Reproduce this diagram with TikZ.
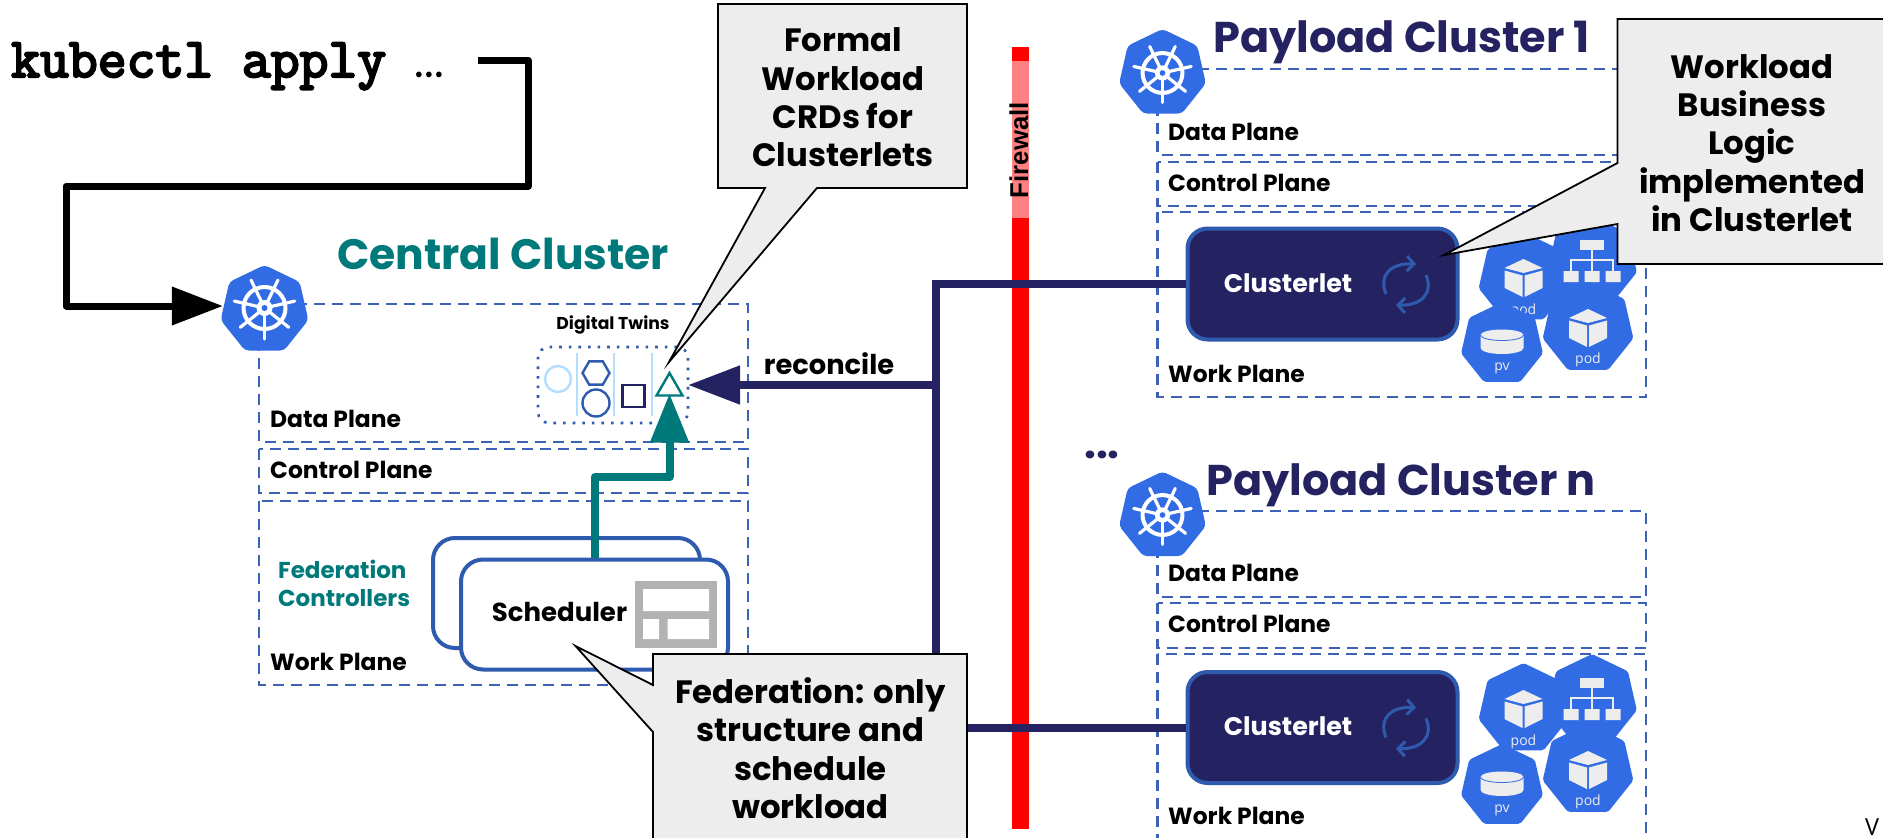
\documentclass[tikz,border=0pt]{standalone}
\usepackage{fontspec}
\setmainfont{Poppins}
\newfontfamily\firefont{Liberation Sans}
\newfontfamily\lightfont{Open Sans}
\newfontfamily\kubefont[FakeBold=4]{Latin Modern Mono}
\usetikzlibrary{arrows.meta,shapes.geometric}
\definecolor{kblue}{HTML}{326CE5}
\definecolor{dashblue}{HTML}{3B62B4}
\definecolor{boxblue}{HTML}{2F5BAE}
\definecolor{navy}{HTML}{252262}
\definecolor{teal2}{HTML}{00797B}
\definecolor{calloutgrey}{HTML}{EDEDED}
\definecolor{lightb}{HTML}{B4DEFF}
\definecolor{iconw}{HTML}{EDEDED}
\tikzset{
  planebox/.style={draw=dashblue,line width=2.7pt,dash pattern=on 11pt off 7pt},
  planelabel/.style={anchor=west,inner sep=0pt,font=\fontsize{23.4}{27}\selectfont\bfseries,text=black},
  titlelabel/.style={anchor=base west,inner sep=0pt,font=\fontsize{43}{50}\selectfont\bfseries},
  kubehept/.style={regular polygon,regular polygon sides=7,fill=kblue,inner sep=0pt,outer sep=0pt,rounded corners=4pt},
  podhept/.style={regular polygon,regular polygon sides=7,fill=kblue,inner sep=0pt,outer sep=0pt,rounded corners=2pt},
  podtext/.style={inner sep=0pt,font=\lightfont\fontsize{14}{16}\selectfont,text=iconw},
  clusterbox/.style={draw=boxblue,fill=navy,line width=4pt,rounded corners=20pt,minimum width=270pt,minimum height=111pt,inner sep=0pt},
  fedbox/.style={draw=boxblue,fill=white,line width=4pt,rounded corners=22pt,minimum width=267pt,minimum height=110pt,inner sep=0pt},
  callout/.style={draw=black,fill=calloutgrey,line width=1.8pt,line join=miter},
  callouttext/.style={align=center,inner sep=0pt,font=\fontsize{32.3}{38.4}\selectfont\bfseries,text=black},
  navyline/.style={draw=navy,line width=8pt},
  twinicon/.style={inner sep=0pt,outer sep=0pt,fill=white,line width=2.4pt},
  syncarc/.style={draw=boxblue,line width=3pt,-{Straight Barb[length=7pt,width=15pt]}}
}
\newcommand{\wheelicon}[3]{%
  \begin{scope}[shift={(#1,#2)},scale=#3]
    \foreach \a in {90,141.43,192.86,244.29,295.71,347.14,38.57}
      \draw[white,line width=3.2pt,line cap=round] (0,0) -- (\a:31);
    \draw[white,line width=4pt] (0,0) circle[radius=21];
    \fill[white] (0,0) circle[radius=8];
    \fill[kblue] (0,0) circle[radius=3];
  \end{scope}}
\newcommand{\cubeicon}[3]{%
  \begin{scope}[shift={(#1,#2)},scale=#3]
    \fill[iconw] (0,-19) -- (19,-10) -- (0,-5) -- (-19,-10) -- cycle;
    \fill[iconw] (-19,-7.5) -- (-1,-2.5) -- (-1,19) -- (-19,10) -- cycle;
    \fill[iconw] (19,-7.5) -- (1,-2.5) -- (1,19) -- (19,10) -- cycle;
  \end{scope}}
\newcommand{\svcicon}[2]{%
  \begin{scope}[shift={(#1,#2)}]
    \fill[iconw] (-12,-22) rectangle (12,-12);
    \draw[iconw,line width=2pt] (0,-12) -- (0,-2) (-21,9) -- (-21,-2) -- (21,-2) -- (21,9) (0,-2) -- (0,9);
    \fill[iconw] (-28.5,9) rectangle (-13.5,20) (-7.5,9) rectangle (7.5,20) (13.5,9) rectangle (28.5,20);
  \end{scope}}
\newcommand{\pvicon}[2]{%
  \begin{scope}[shift={(#1,#2)}]
    \fill[iconw] (-21.5,-9) -- (-21.5,4) arc[start angle=180,end angle=360,x radius=21.5,y radius=-6] -- (21.5,-9) -- cycle;
    \fill[iconw] (0,-9) ellipse[x radius=21.5,y radius=5.5];
    \draw[kblue,line width=.8pt] (-21.5,-9) arc[start angle=180,end angle=360,x radius=21.5,y radius=-5.5];
  \end{scope}}
\newcommand{\clusterlet}[2]{%
  \node[clusterbox] (c#1) at (1322.5,#2) {};
  \node[inner sep=0pt,font=\fontsize{25.4}{28}\selectfont\bfseries,text=white] (ct#1) at (1288,#2-1) {Clusterlet};
  \draw[syncarc] (1386,#2+10) .. controls (1378,#2-10) and (1392,#2-21) .. (1416,#2-20);
  \draw[syncarc] (1426,#2-9) .. controls (1434,#2+10) and (1420,#2+22) .. (1396,#2+21);
}
\begin{document}
\begin{tikzpicture}[x=1pt,y=-1pt]
\useasboundingbox (0,0) rectangle (1883,838);
\clip (0,0) rectangle (1883,838);
\fill[white] (0,0) rectangle (1883,838);

% ---- plane boxes
\draw[planebox] (259,304) rectangle (748,442);
\draw[planebox] (259,449) rectangle (748,493);
\draw[planebox] (259,501) rectangle (748,685);
\draw[planebox] (1157.5,69) rectangle (1646,155);
\draw[planebox] (1157.5,162) rectangle (1646,206);
\draw[planebox] (1157.5,212) rectangle (1646,397);
\draw[planebox] (1157.5,511) rectangle (1646,597);
\draw[planebox] (1157.5,603) rectangle (1646,648);
\draw[planebox] (1157.5,654) rectangle (1646,850);

% ---- kubernetes badges
\node[kubehept,minimum size=90pt] (k1) at (264.5,310) {};
\wheelicon{264.5}{308}{1}
\node[kubehept,minimum size=89pt] (kp) at (1162.5,73.5) {};
\wheelicon{1162.5}{73}{.95}
\node[kubehept,minimum size=89pt] (kn) at (1162.5,516) {};
\wheelicon{1162.5}{515}{.95}

% ---- titles
\node[titlelabel,text=teal2,font=\fontsize{42.5}{50}\selectfont\bfseries] (tc) at (337,269) {Central Cluster};
\node[titlelabel,text=navy] (tp) at (1213,52) {Payload Cluster 1};
\node[titlelabel,text=navy] (tn) at (1206,495) {Payload Cluster n};

% ---- plane labels
\node[planelabel] (l1) at (270,419) {Data Plane};
\node[planelabel] (l2) at (270,470) {Control Plane};
\node[planelabel] (l3) at (270,662) {Work Plane};
\node[planelabel] (l4) at (1168,132) {Data Plane};
\node[planelabel] (l5) at (1168,183) {Control Plane};
\node[planelabel] (l6) at (1168,374) {Work Plane};
\node[planelabel] (l7) at (1168,573) {Data Plane};
\node[planelabel] (l8) at (1168,624) {Control Plane};
\node[planelabel] (l9) at (1168,816) {Work Plane};

% ---- digital twins
\node[inner sep=0pt,font=\fontsize{17.2}{20}\selectfont\bfseries] (dtl) at (613,325) {Digital Twins};
\node[draw=boxblue,line width=2.6pt,dash pattern=on 2.6pt off 7pt,rounded corners=11pt,minimum width=150pt,minimum height=76pt,inner sep=0pt,outer sep=0pt] (twins) at (613,385) {};
\draw[lightb,line width=1.8pt] (577,353) -- (577,416) (614,353) -- (614,416) (652,353) -- (652,416);
\node[circle,draw=lightb,twinicon,minimum size=26pt] (t1) at (558,379) {};
\node[regular polygon,regular polygon sides=6,draw=boxblue,twinicon,minimum size=27pt] (t2) at (596,373) {};
\node[circle,draw=boxblue,twinicon,minimum size=27pt] (t3) at (596,403) {};
\node[draw=navy,twinicon,minimum size=22pt] (t4) at (633.5,396) {};
\node[regular polygon,regular polygon sides=3,draw=teal2,twinicon,minimum size=30pt] (t5) at (669.5,388) {};

% ---- federation boxes
\node[fedbox] (fedback) at (566.5,593) {};
\node[fedbox] (sched) at (594.5,614.5) {};
\node[inner sep=0pt,font=\fontsize{26}{30}\selectfont\bfseries] (schedt) at (559.5,612) {Scheduler};
\node[anchor=west,align=left,inner sep=0pt,text=teal2,font=\fontsize{23}{28}\selectfont\bfseries] (fedt) at (278,583) {Federation\\Controllers};
\fill[gray!60!white] (634.5,581) rectangle (717,648);
\fill[white] (643,589) rectangle (709,611) (643,619) rectangle (659,639) (667.5,619) rectangle (709,639);

% ---- clusterlets, pods
\clusterlet{p}{284}
\clusterlet{n}{727.5}

\node[podhept,minimum size=92pt] (pa1) at (1523.5,278) {};
\cubeicon{1523.5}{278}{1}
\node[podtext] (pa1t) at (1523.5,311) {pod};
\node[podhept,minimum size=92pt] (ps1) at (1592,262) {};
\svcicon{1592}{262}
\node[podhept,minimum size=84pt] (pv1) at (1502,344) {};
\pvicon{1502}{344}
\node[podtext] (pv1t) at (1502,368) {pv};
\node[podhept,minimum size=93pt] (pb1) at (1588,328) {};
\cubeicon{1588}{328}{1}
\node[podtext] (pb1t) at (1588,360) {pod};

\node[podhept,minimum size=92pt] (pa2) at (1523.5,709) {};
\cubeicon{1523.5}{709}{1}
\node[podtext] (pa2t) at (1523.5,742) {pod};
\node[podhept,minimum size=92pt] (ps2) at (1592,700) {};
\svcicon{1592}{700}
\node[podhept,minimum size=84pt] (pv2) at (1502,786) {};
\pvicon{1502}{786}
\node[podtext] (pv2t) at (1502,810) {pv};
\node[podhept,minimum size=93pt] (pb2) at (1588,770) {};
\cubeicon{1588}{770}{1}
\node[podtext] (pb2t) at (1588,802) {pod};

% ---- firewall
\fill[red] (1012,47) rectangle (1028.5,829);
\fill[red!50!white] (1012,61) rectangle (1028.5,218);
\node[rotate=90,inner sep=0pt,font=\firefont\bfseries\fontsize{25.8}{28}\selectfont] (fw) at (1019,150) {Firewall};

% ---- navy connectors
\coordinate (jtop) at (936,284);
\coordinate (jmid) at (936,385);
\coordinate (jbot) at (936,727.5);
\draw[navyline,line join=miter] (cp.west) -- (jtop) -- (jbot) -- (cn.west);
\draw[navyline,-{Triangle[length=52pt,width=37pt]}] (jmid) -- (twins.east);
\node[inner sep=0pt,font=\fontsize{27.3}{32}\selectfont\bfseries] (rec) at (829,364) {reconcile};

\node[anchor=base,inner sep=0pt,font=\fontsize{42}{46}\selectfont\bfseries,text=navy] (dots) at (1102,458) {...};

% ---- teal connector
\coordinate (tb1) at (594.5,477);
\coordinate (tb2) at (669.5,477);
\draw[draw=teal2,line width=8pt,line join=round,shorten >=-2pt,-{Triangle[length=49pt,width=37pt]}] (sched.north) -- (tb1) -- (tb2) -- (t5.south);

% ---- kubectl
\node[inner sep=0pt,anchor=base west,font=\kubefont\fontsize{56}{60}\selectfont] (kctl) at (11,77) {kubectl apply\hspace{0pt} {\rmfamily\mdseries\fontsize{46}{48}\selectfont ...}};
\coordinate (ks) at (478,60);
\coordinate (kb1) at (528,60);
\coordinate (kb2) at (528,186);
\coordinate (kb3) at (66,186);
\coordinate (kb4) at (66,306);
\draw[black,line width=7pt,line join=round,-{Triangle[length=51pt,width=37pt]}] (ks) -- (kb1) -- (kb2) -- (kb3) -- (kb4) -- (kb4 -| k1.west);

% ---- callouts
\draw[callout] (718,4) -- (967,4) -- (967,188) -- (817,188) -- (669,362) -- (765,188) -- (718,188) -- cycle;
\node[callouttext] (cf) at (843,97.5) {Formal\\Workload\\CRDs for\\Clusterlets};
\draw[callout] (1617.5,19) -- (1895,19) -- (1895,264) -- (1617.5,264) -- (1617.5,224) -- (1444,255) -- (1617.5,163) -- cycle;
\node[callouttext] (cw) at (1752,143) {Workload\\Business\\Logic\\implemented\\in Clusterlet};
\draw[callout] (653,654) -- (967,654) -- (967,850) -- (653,850) -- (653,732) -- (575.5,646) -- (653,685) -- cycle;
\node[callouttext] (cs) at (810.5,748) {Federation: only\\structure and\\schedule\\workload};

\node[inner sep=0pt,anchor=west,font=\lightfont\fontsize{23.5}{26}\selectfont] (vv) at (1865,827.5) {V};
\end{tikzpicture}
\end{document}
